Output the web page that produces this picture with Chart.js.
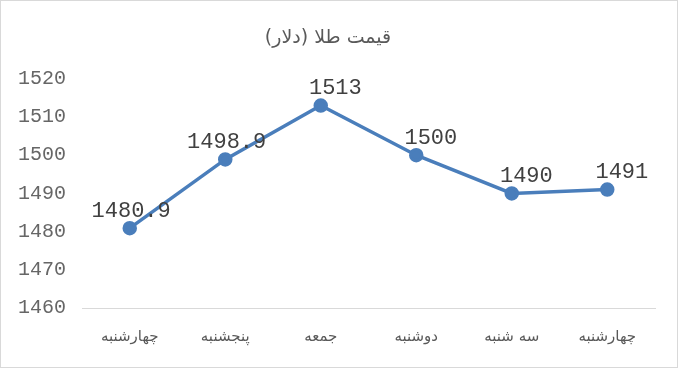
<!DOCTYPE html>
<html>
<head>
<meta charset="utf-8">
<script src="https://cdn.jsdelivr.net/npm/chart.js@4/dist/chart.umd.min.js"></script>
<style>
  html, body { margin: 0; padding: 0; background: #fff; }
  #wrap { width: 678px; height: 368px; box-sizing: border-box; border: 1px solid #d9d9d9; }
</style>
</head>
<body>
<div id="wrap"><canvas id="myChart"></canvas></div>
<script>
// data
var days = ['چهارشنبه', 'پنجشنبه', 'جمعه', 'دوشنبه', 'سه شنبه', 'چهارشنبه'];
var prices = [1480.9, 1498.9, 1513, 1500, 1490, 1491];
var yTicks = [1460, 1470, 1480, 1490, 1500, 1510, 1520];

var titleText = '\u200Fقیمت طلا (دلار)\u200F';

// draws the value above each point, like excel does
var valueLabels = {
    id: 'valueLabels',
    afterDatasetsDraw: function(chart) {
        var ctx = chart.ctx;
        var meta = chart.getDatasetMeta(0);
        ctx.save();
        ctx.font = '22px "Liberation Mono", monospace';
        ctx.fillStyle = '#404040';
        ctx.textAlign = 'right';
        ctx.textBaseline = 'middle';
        meta.data.forEach(function(pt, i) {
            ctx.fillText(String(prices[i]), pt.x + 41, pt.y - 17);
        });
        ctx.restore();
    }
};

var ctx = document.getElementById('myChart');
var myChart = new Chart(ctx, {
    type: 'line',
    data: {
        labels: days,
        datasets: [{
            label: 'قیمت',
            data: prices,
            borderColor: '#4a7ebb',
            backgroundColor: '#4a7ebb',
            borderWidth: 3.5,
            pointRadius: 5.5,
            pointHoverRadius: 5.5,
            tension: 0
        }]
    },
    options: {
        responsive: true,
        maintainAspectRatio: false,
        animation: false,
        layout: { padding: { left: 0, right: 22, top: 0, bottom: 0 } },
        plugins: {
            legend: { display: false },
            tooltip: { enabled: false },
            title: {
                display: true,
                text: titleText,
                color: '#595959',
                font: { family: '"DejaVu Sans", sans-serif', size: 19, weight: 'normal' },
                padding: { top: 26, bottom: 29 }
            }
        },
        scales: {
            x: {
                offset: true,
                grid: { display: false, drawTicks: false },
                border: { display: true, color: '#d9d9d9', width: 1 },
                ticks: {
                    color: '#595959',
                    padding: 20,
                    font: { family: '"DejaVu Sans", sans-serif', size: 15 }
                },
                afterFit: function(scale) { scale.height = 59; }
            },
            y: {
                min: yTicks[0],
                max: yTicks[yTicks.length - 1],
                grid: { display: false, drawTicks: false },
                border: { display: false },
                ticks: {
                    stepSize: 10,
                    color: '#666666',
                    padding: 16,
                    font: { family: '"Liberation Mono", monospace', size: 20 },
                    callback: function(v) { return String(v); }
                },
                afterFit: function(scale) { scale.width = 81; }
            }
        }
    },
    plugins: [valueLabels]
});
</script>
</body>
</html>
